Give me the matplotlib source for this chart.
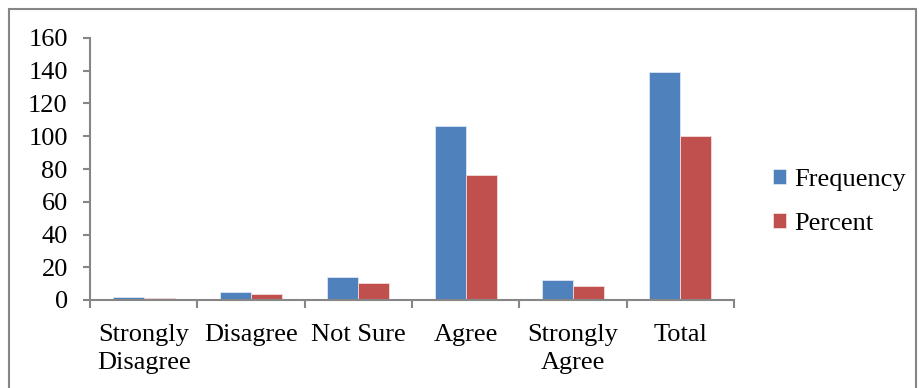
import numpy as np
import matplotlib.pyplot as plt
from matplotlib.patches import Rectangle

categories = ["Strongly\nDisagree", "Disagree", "Not Sure", "Agree", "Strongly\nAgree", "Total"]
frequency = [2, 5, 14, 106, 12, 139]
percent = [1.4, 3.6, 10.1, 76.3, 8.6, 100]

plt.rcParams['font.family'] = ['Liberation Serif', 'DejaVu Serif']

fig = plt.figure(figsize=(9.2, 3.88), dpi=100)
ax = fig.add_axes([90 / 920, 1 - 300 / 388, (734 - 90) / 920, (300 - 38) / 388])

x = np.arange(len(categories))
w = 0.29
ax.bar(x - w / 2, frequency, w, color='#4F81BD', edgecolor='#dce6f2', linewidth=0.6, label='Frequency')
ax.bar(x + w / 2, percent, w, color='#C0504D', edgecolor='#f2dcdb', linewidth=0.6, label='Percent')

ax.set_xlim(-0.5, len(categories) - 0.5)
ax.set_ylim(0, 160)
ax.set_yticks(range(0, 161, 20))
ax.set_xticks(x)
ax.set_xticklabels(categories, fontsize=19, linespacing=1.38)
ax.set_xticks(np.arange(-0.5, len(categories)), minor=True)
ax.tick_params(axis='x', which='major', length=0, pad=17)
ax.tick_params(axis='x', which='minor', length=6, width=1.5, color='#868686', direction='out')
ax.tick_params(axis='y', length=5, width=1.5, color='#868686', labelsize=19, pad=11)

for s in ['top', 'right']:
    ax.spines[s].set_visible(False)
for s in ['left', 'bottom']:
    ax.spines[s].set_color('#868686')
    ax.spines[s].set_linewidth(1.5)

ax.legend(loc='center left', bbox_to_anchor=(1.06, 0.375), frameon=False, fontsize=19,
          handlelength=0.5, handleheight=0.5, handletextpad=0.3, labelspacing=0.85,
          borderaxespad=0, borderpad=0)

# outer chart border
fig.patches.append(Rectangle((9 / 920, -0.01), (916 - 9) / 920, 1 - 9 / 388 + 0.01,
                             transform=fig.transFigure, fill=False, edgecolor='#868686', linewidth=1.5))

fig.savefig('out.png', dpi=100)
